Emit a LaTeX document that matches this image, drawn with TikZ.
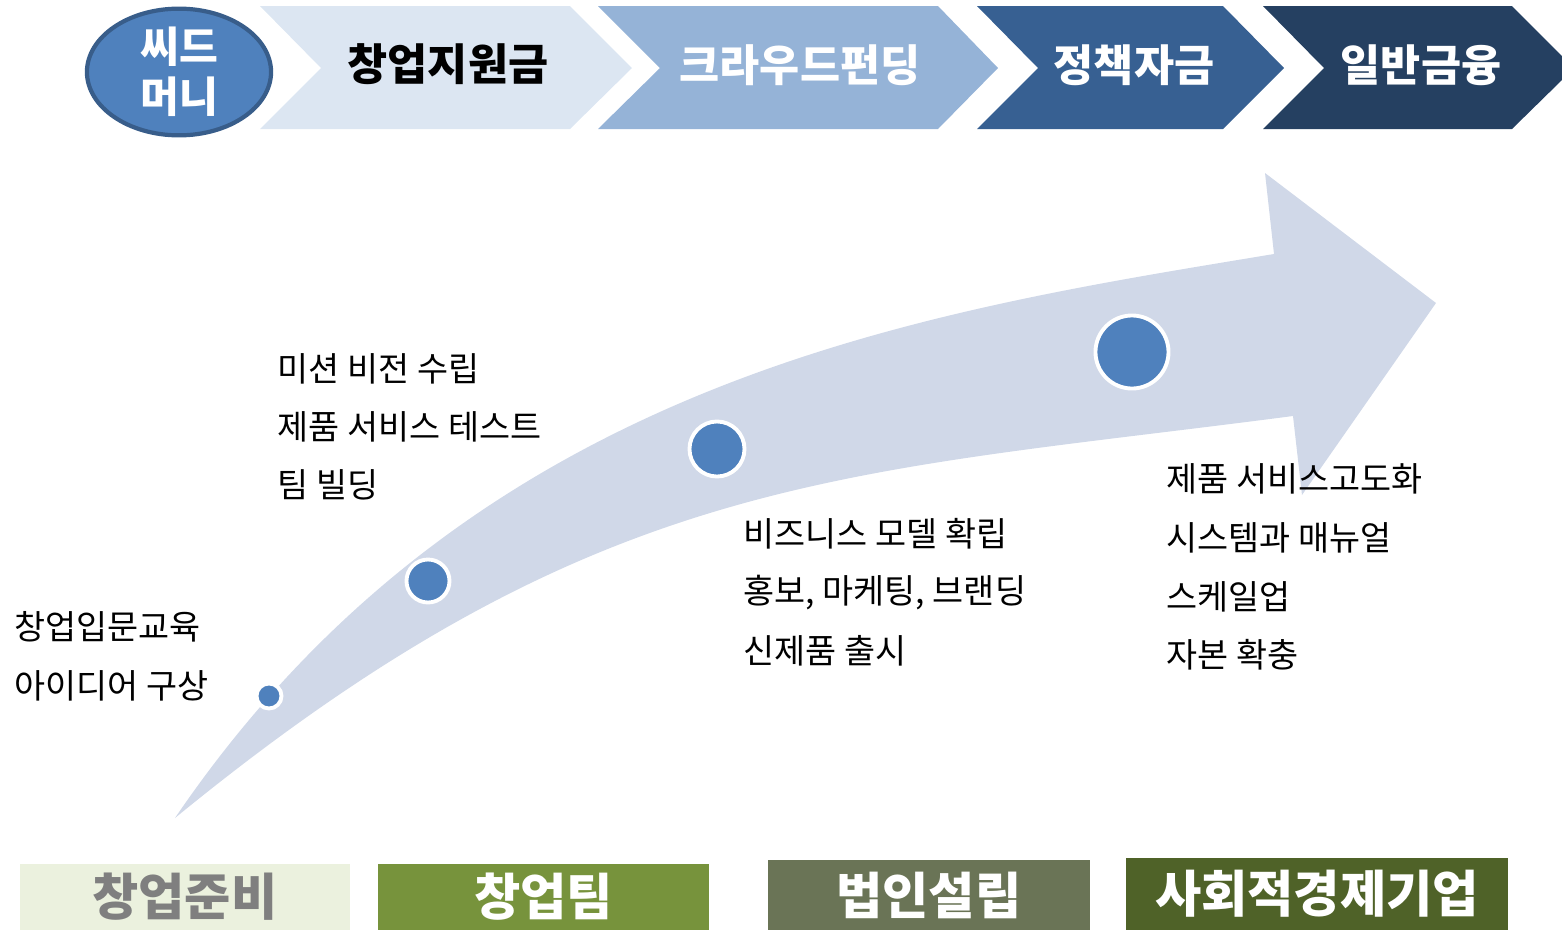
\documentclass[tikz,border=0pt]{standalone}
\usepackage{fontspec}
\setmainfont{Noto Sans CJK KR}
\usepackage{tikz}
\usetikzlibrary{shapes.geometric}
\definecolor{arrowfill}{RGB}{208,216,232}
\definecolor{dotblue}{RGB}{79,129,189}
\definecolor{seedline}{RGB}{56,93,138}
\definecolor{chevA}{RGB}{220,230,242}
\definecolor{chevB}{RGB}{149,179,215}
\definecolor{chevC}{RGB}{55,96,146}
\definecolor{chevD}{RGB}{37,64,97}
\definecolor{stageA}{RGB}{235,241,222}
\definecolor{stageB}{RGB}{119,147,60}
\definecolor{stageC}{RGB}{106,116,86}
\definecolor{stageD}{RGB}{79,98,40}
\definecolor{stagegray}{RGB}{127,127,127}

\begin{document}
\begin{tikzpicture}[x=0.01cm,y=-0.01cm,
  item/.style={anchor=west,inner sep=0pt,font=\fontsize{9.6}{11}\selectfont},
  chevtext/.style={inner sep=0pt,font=\fontsize{12.4}{14}\selectfont\bfseries},
  stagebox/.style={inner sep=0pt,minimum height=0.7cm,text=white,font=\fontsize{14.3}{16}\selectfont\bfseries},
  dot/.style={circle,fill=dotblue,draw=white,line width=1.1pt,inner sep=0pt}]
\useasboundingbox (0,0) rectangle (1562,930);
\fill[arrowfill] (175,818) .. controls (475,377) and (924,312) .. (1274,254) -- (1265,173) -- (1436,303)
  -- (1302,495) -- (1293,416) .. controls (843,475) and (600,470) .. (175,818) -- cycle;
\node[dot,minimum size=0.25cm] (d1) at (269,696) {};
\node[dot,minimum size=0.43cm] (d2) at (428,581) {};
\node[dot,minimum size=0.55cm] (d3) at (717,449) {};
\node[dot,minimum size=0.73cm] (d4) at (1132,352) {};
\fill[chevA] (260,6) -- (570,6) -- (632,68) -- (570,129) -- (260,129) -- (321,68) -- cycle;
\fill[chevB] (598,6) -- (938,6) -- (998,68) -- (938,129) -- (598,129) -- (660,68) -- cycle;
\fill[chevC] (977,6) -- (1223,6) -- (1284,68) -- (1223,129) -- (977,129) -- (1038,68) -- cycle;
\fill[chevD] (1263,6) -- (1512,6) -- (1562,56) -- (1562,80) -- (1512,129) -- (1263,129) -- (1324,68) -- cycle;
\node[ellipse,fill=dotblue,draw=seedline,line width=1.2pt,minimum width=1.84cm,minimum height=1.2cm,
  inner sep=0pt,align=center,text=white,font=\fontsize{12}{14.2}\selectfont\bfseries] (seed) at (179,72) {씨드\\머니};
\node[chevtext] (grant) at (448,64) {창업지원금};
\node[chevtext,text=white] (crowd) at (800,65) {크라우드펀딩};
\node[chevtext,text=white] (policy) at (1134,65) {정책자금};
\node[chevtext,text=white] (loan) at (1421,65) {일반금융};
\node[item] (a1) at (14,627) {창업입문교육};
\node[item] (a2) at (14,686) {아이디어 구상};
\node[item] (b1) at (277,369) {미션 비전 수립};
\node[item] (b2) at (277,427) {제품 서비스 테스트};
\node[item] (b3) at (277,485) {팀 빌딩};
\node[item] (c1) at (743,534) {비즈니스 모델 확립};
\node[item] (c2) at (743,593) {홍보, 마케팅, 브랜딩};
\node[item] (c3) at (743,651) {신제품 출시};
\node[item] (e1) at (1166,479) {제품 서비스고도화};
\node[item] (e2) at (1166,538) {시스템과 매뉴얼};
\node[item] (e3) at (1166,597) {스케일업};
\node[item] (e4) at (1166,655) {자본 확충};
\node[stagebox,fill=stageA,text=stagegray,minimum width=3.30cm,minimum height=0.66cm] (prep) at (185,897) {창업준비};
\node[stagebox,fill=stageB,minimum width=3.31cm,minimum height=0.66cm] (team) at (543.5,897) {창업팀};
\node[stagebox,fill=stageC,minimum width=3.22cm] (corp) at (929,895) {법인설립};
\node[stagebox,fill=stageD,minimum width=3.82cm,minimum height=0.72cm] (social) at (1317,894) {사회적경제기업};
\end{tikzpicture}
\end{document}
